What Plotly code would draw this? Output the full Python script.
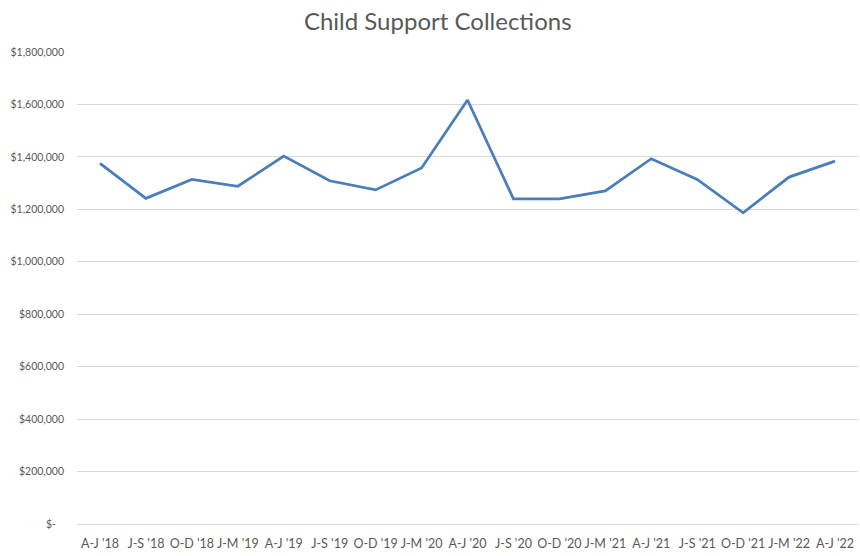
import plotly.graph_objects as go

quarters = ["A-J '18", "J-S '18", "O-D '18", "J-M '19", "A-J '19", "J-S '19", "O-D '19",
            "J-M '20", "A-J '20", "J-S '20", "O-D '20", "J-M '21", "A-J '21", "J-S '21",
            "O-D '21", "J-M '22", "A-J '22"]
collections = [1375000, 1242000, 1314000, 1288000, 1403000, 1309000, 1274000,
               1358000, 1617000, 1240000, 1240000, 1270000, 1393000, 1314000,
               1187000, 1323000, 1384000]

y_tick_vals = [0, 200000, 400000, 600000, 800000, 1000000, 1200000, 1400000, 1600000, 1800000]
y_tick_text = ["$-\u00a0\u00a0\u00a0", "$200,000", "$400,000", "$600,000", "$800,000",
               "$1,000,000", "$1,200,000", "$1,400,000", "$1,600,000", "$1,800,000"]

fig = go.Figure()
fig.add_trace(go.Scatter(
    x=quarters, y=collections, mode="lines",
    line=dict(color="#4a7ebb", width=2.75),
    hoverinfo="x+y",
))

fig.update_layout(
    width=860, height=556,
    paper_bgcolor="white", plot_bgcolor="white",
    margin=dict(l=77, r=2, t=52, b=32),
    title=dict(text="Child Support Collections", x=0.509, xanchor="center",
               y=0.962, yanchor="middle",
               font=dict(family="Lato, Open Sans, sans-serif", size=24, color="#595959")),
    showlegend=False,
    font=dict(family="Lato, Open Sans, sans-serif", size=11, color="#595959"),
)
fig.update_xaxes(
    type="category", range=[-0.5, len(quarters) - 0.5], tickangle=0,
    showgrid=False, showline=False, zeroline=False,
    ticks="", tickfont=dict(size=12.5, color="#595959"), ticklabelstandoff=10,
)
fig.update_yaxes(
    range=[0, 1800000], tickvals=y_tick_vals, ticktext=y_tick_text,
    showgrid=True, gridcolor="#d9d9d9", gridwidth=1,
    zeroline=True, zerolinecolor="#d9d9d9", zerolinewidth=1, showline=False,
    ticks="", tickfont=dict(size=10.5, color="#595959"), ticklabelstandoff=12,
)

fig.write_html("out.html", config={"displayModeBar": False},
               post_script="document.body.style.margin='0px';")
